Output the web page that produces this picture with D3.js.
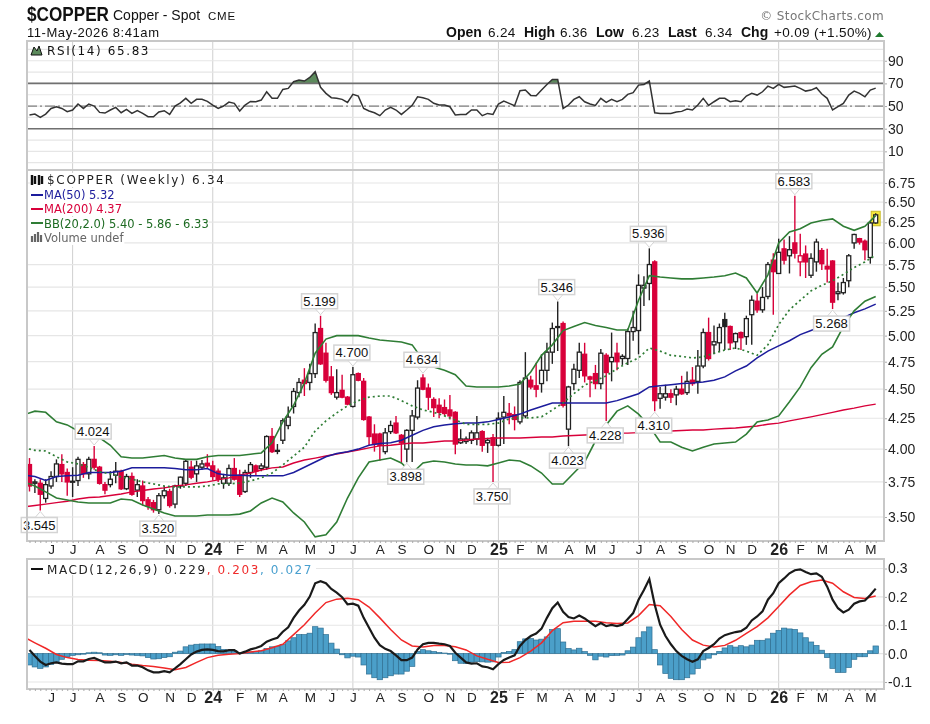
<!DOCTYPE html>
<html lang="en">
    <head>
        <meta charset="UTF-8">
        <title>$COPPER</title>
        <script type="text/javascript" src="https://cdnjs.cloudflare.com/ajax/libs/d3/7.8.5/d3.min.js"></script>
        <style>
            html, body { margin: 0; padding: 0; background: #fff; }
            svg { display: block; filter: blur(0.35px); }
            text { font-family: "Liberation Sans", Arial, sans-serif; fill: #111; }
            .legend { font-family: "DejaVu Sans", sans-serif; font-size: 12px; letter-spacing: 1.6px; }
            .tick-label text { font-size: 14px; fill: #222; }
            .domain { display: none; }
        </style>
    </head>
    <body>
        <div id="svg-container"></div>
        <script type="text/javascript">
            // weekly bars, first and last monday on the chart
            var weeks = d3.utcMonday.range(Date.UTC(2023, 4, 8), Date.UTC(2026, 4, 12));

            var opens = [
                3.88,3.74,3.74,3.63,3.72,3.79,3.88,3.82,3.75,3.76,
                3.88,3.81,3.92,3.86,3.73,3.73,3.80,3.83,3.70,3.79,
                3.69,3.72,3.62,3.60,3.55,3.65,3.68,3.59,3.72,3.74,
                3.86,3.81,3.86,3.89,3.87,3.83,3.74,3.74,3.85,3.80,
                3.68,3.82,3.87,3.85,3.86,4.10,3.985,4.07,4.19,4.35,
                4.47,4.58,4.56,4.64,5.07,4.83,4.61,4.43,4.49,4.43,
                4.35,4.64,4.57,4.26,4.12,4.12,3.98,4.14,4.21,4.11,
                4.00,4.15,4.26,4.60,4.51,4.41,4.36,4.34,4.32,4.30,
                4.05,4.06,4.07,4.08,4.14,4.05,4.09,4.03,4.26,4.29,
                4.28,4.22,4.27,4.58,4.53,4.55,4.67,4.84,5.08,5.12,
                4.16,4.55,4.67,4.82,4.61,4.64,4.55,4.81,4.75,4.83,
                4.78,4.78,5.04,5.05,5.49,5.54,5.78,4.42,4.43,4.46,
                4.45,4.50,4.47,4.58,4.57,4.71,5.03,4.91,4.93,5.16,
                5.09,4.94,5.03,4.99,5.21,5.35,5.26,5.40,5.80,5.65,
                5.93,5.85,6.00,5.78,5.87,5.63,5.78,5.91,5.73,5.79,
                5.43,5.44,5.57,6.00,6.05,6.02,5.83,6.24
            ];
            var highs = [
                3.93,3.77,3.77,3.77,3.83,3.92,3.96,3.85,3.86,3.94,
                3.90,3.94,4.024,3.87,3.75,3.83,3.90,3.84,3.81,3.82,
                3.77,3.76,3.64,3.62,3.67,3.72,3.70,3.73,3.79,3.92,
                3.91,3.91,3.915,3.96,3.91,3.85,3.81,3.88,3.93,3.84,
                3.84,3.90,3.88,3.89,4.11,4.17,4.04,4.25,4.35,4.51,
                4.60,4.69,4.73,5.12,5.199,4.93,4.71,4.68,4.63,4.44,
                4.70,4.65,4.60,4.27,4.20,4.13,4.17,4.23,4.27,4.12,
                4.16,4.32,4.58,4.634,4.55,4.43,4.42,4.41,4.45,4.31,
                4.16,4.10,4.15,4.27,4.15,4.09,4.12,4.30,4.44,4.38,
                4.35,4.58,4.84,4.62,4.74,4.82,4.93,5.13,5.346,5.14,
                4.53,4.73,4.93,4.93,4.62,4.72,4.87,4.83,5.03,4.93,
                4.82,5.07,5.25,5.64,5.62,5.936,5.80,4.52,4.54,4.50,
                4.53,4.62,4.66,4.70,4.86,5.07,5.18,5.10,5.12,5.23,
                5.10,5.03,5.04,5.20,5.41,5.43,5.50,5.78,5.88,6.05,
                6.04,6.08,6.583,6.11,5.97,5.88,6.05,5.94,5.93,5.80,
                5.55,5.60,5.87,6.11,6.06,6.04,6.26,6.36
            ];
            var lows = [
                3.68,3.67,3.545,3.60,3.70,3.75,3.75,3.65,3.64,3.72,
                3.78,3.77,3.84,3.73,3.66,3.71,3.74,3.69,3.69,3.65,
                3.64,3.58,3.55,3.53,3.52,3.63,3.565,3.56,3.70,3.72,
                3.77,3.75,3.84,3.85,3.76,3.75,3.70,3.72,3.76,3.64,
                3.67,3.78,3.80,3.83,3.84,3.97,3.96,4.04,4.16,4.29,
                4.43,4.44,4.49,4.60,4.72,4.56,4.45,4.41,4.42,4.36,
                4.34,4.57,4.23,4.03,3.98,3.91,3.96,4.12,4.12,3.89,
                3.898,3.90,4.24,4.49,4.32,4.26,4.25,4.27,4.24,3.96,
                4.04,4.04,4.04,4.03,3.98,3.97,3.75,4.02,4.04,4.20,
                4.15,4.20,4.25,4.50,4.43,4.47,4.57,4.73,4.85,4.34,
                4.023,4.49,4.60,4.56,4.43,4.50,4.50,4.228,4.57,4.67,
                4.72,4.72,4.95,4.82,5.30,5.36,4.31,4.33,4.40,4.38,
                4.36,4.45,4.45,4.53,4.46,4.69,4.76,4.82,4.84,4.86,
                4.86,4.87,4.86,4.91,4.91,5.23,5.23,5.37,5.21,5.65,
                5.75,5.65,5.82,5.62,5.60,5.60,5.67,5.69,5.55,5.268,
                5.36,5.42,5.50,5.93,5.98,5.80,5.76,6.23
            ];
            var closes = [
                3.72,3.75,3.66,3.73,3.79,3.885,3.81,3.75,3.755,3.92,
                3.81,3.92,3.86,3.74,3.69,3.77,3.83,3.70,3.79,3.66,
                3.73,3.615,3.575,3.55,3.65,3.685,3.58,3.72,3.785,3.905,
                3.785,3.87,3.885,3.87,3.79,3.77,3.78,3.85,3.77,3.66,
                3.82,3.88,3.83,3.87,4.10,3.98,3.99,4.23,4.26,4.48,
                4.56,4.55,4.64,5.03,4.73,4.58,4.47,4.47,4.43,4.37,
                4.63,4.58,4.24,4.10,4.04,4.03,4.13,4.19,4.13,4.05,
                4.15,4.27,4.51,4.50,4.43,4.34,4.30,4.29,4.27,4.04,
                4.08,4.08,4.13,4.13,4.03,4.07,4.03,4.25,4.30,4.27,
                4.24,4.56,4.60,4.52,4.50,4.67,4.84,5.07,5.09,4.36,
                4.52,4.68,4.84,4.62,4.59,4.55,4.83,4.65,4.79,4.75,
                4.80,5.04,5.08,5.52,5.52,5.75,4.40,4.46,4.46,4.43,
                4.50,4.46,4.57,4.55,4.71,5.03,4.78,4.94,5.08,5.09,
                4.93,5.02,4.98,5.17,5.36,5.26,5.39,5.75,5.67,5.89,
                5.80,5.92,5.88,5.85,5.78,5.82,6.01,5.76,5.70,5.34,
                5.45,5.55,5.85,6.10,6.01,5.92,6.24,6.34
            ];

            // overlays are read every second week, counted back from the last bar
            var ma50 = [
                3.80,3.79,3.76,3.79,3.795,3.80,3.82,3.82,3.82,3.83,
                3.855,3.855,3.855,3.855,3.85,3.84,3.84,3.85,3.81,3.80,
                3.80,3.795,3.795,3.795,3.795,3.82,3.86,3.90,3.94,3.965,
                3.98,4.00,4.03,4.045,4.05,4.07,4.11,4.15,4.18,4.195,
                4.205,4.21,4.21,4.22,4.24,4.26,4.285,4.32,4.35,4.38,
                4.38,4.38,4.38,4.38,4.38,4.40,4.43,4.46,4.52,4.53,
                4.54,4.55,4.555,4.564,4.58,4.61,4.665,4.71,4.785,4.85,
                4.90,4.95,5.01,5.05,5.09,5.13,5.18,5.23,5.27,5.32
            ];
            var ma200 = [
                3.57,3.58,3.59,3.60,3.61,3.626,3.637,3.64,3.651,3.662,
                3.677,3.687,3.698,3.706,3.72,3.728,3.74,3.75,3.765,3.78,
                3.80,3.816,3.839,3.855,3.862,3.892,3.915,3.93,3.946,3.962,
                3.977,3.993,4.01,4.025,4.03,4.04,4.048,4.048,4.056,4.064,
                4.064,4.072,4.08,4.084,4.088,4.088,4.088,4.092,4.096,4.096,
                4.104,4.108,4.112,4.116,4.12,4.128,4.128,4.132,4.136,4.14,
                4.145,4.149,4.153,4.153,4.16,4.165,4.17,4.178,4.186,4.20,
                4.21,4.228,4.245,4.262,4.28,4.30,4.32,4.336,4.355,4.37
            ];
            var bbUpper = [
                4.28,4.31,4.30,4.22,4.195,4.145,4.11,4.09,4.03,3.94,
                3.93,3.93,3.94,3.95,3.93,3.92,3.92,3.94,3.95,3.95,
                3.95,3.96,3.97,4.05,4.22,4.36,4.555,4.83,4.966,5.00,
                5.00,5.00,4.976,4.957,4.947,4.937,4.91,4.766,4.70,4.67,
                4.63,4.528,4.52,4.52,4.52,4.528,4.546,4.655,4.81,4.91,
                5.05,5.09,5.13,5.10,5.08,5.056,5.056,5.36,5.625,5.61,
                5.60,5.59,5.59,5.60,5.61,5.625,5.655,5.60,5.437,5.635,
                6.00,6.13,6.17,6.24,6.27,6.29,6.20,6.15,6.20,6.33
            ];
            var bbMiddle = [
                4.01,3.99,3.985,3.94,3.90,3.885,3.86,3.825,3.81,3.787,
                3.77,3.75,3.735,3.72,3.713,3.713,3.713,3.72,3.735,3.735,
                3.742,3.757,3.78,3.816,3.877,3.946,4.015,4.145,4.228,4.295,
                4.355,4.40,4.43,4.44,4.44,4.40,4.355,4.32,4.30,4.27,
                4.236,4.20,4.20,4.20,4.21,4.245,4.253,4.253,4.262,4.32,
                4.38,4.46,4.537,4.575,4.62,4.685,4.74,4.785,4.88,4.85,
                4.81,4.80,4.785,4.795,4.83,4.86,4.88,4.85,4.81,4.91,
                5.11,5.26,5.36,5.46,5.52,5.57,5.64,5.715,5.78,5.86
            ];
            var bbLower = [
                3.75,3.72,3.677,3.633,3.619,3.605,3.598,3.598,3.598,3.626,
                3.619,3.584,3.556,3.528,3.507,3.507,3.507,3.514,3.514,3.514,
                3.52,3.542,3.598,3.633,3.605,3.528,3.466,3.366,3.38,3.466,
                3.633,3.78,3.90,3.915,3.93,3.892,3.816,3.892,3.907,3.90,
                3.885,3.877,3.877,3.87,3.892,3.915,3.907,3.87,3.816,3.735,
                3.735,3.816,3.90,4.064,4.195,4.31,4.355,4.285,4.186,4.056,
                4.056,4.015,3.985,4.015,4.04,4.048,4.056,4.12,4.22,4.236,
                4.27,4.39,4.52,4.695,4.82,4.89,5.09,5.25,5.35,5.40
            ];

            var rsiValues = [
                42.1,42.9,40,42.9,47.9,49.4,47.9,45,46.5,51.8,
                47.9,51.8,50,44.4,43.8,46.5,48.8,44.1,47.1,43.5,
                45.9,43.5,40.6,40.6,44.7,45.9,42.6,50,52.9,56.8,
                52.4,55.9,55.9,54.1,50.9,47.9,50,53.5,52.4,45.6,
                50.9,54.1,53.8,55.3,62.6,56.8,56.8,64.7,65.6,71.5,
                72.9,72.1,75.3,80.3,66.5,61.2,57.4,56.8,55.9,53.2,
                60.3,58.8,47.9,45.6,44.1,41.5,46.5,48.8,46.5,42.6,
                46.5,50.6,58.2,57.4,55.9,52.4,50.9,50.9,49.4,42.1,
                42.6,42.6,46.5,46.5,41.5,43.5,42.6,51.8,54.4,52.4,
                50.3,63.5,64.1,59.4,59.1,64.1,69.1,73.5,73.5,47.9,
                50.9,55.9,58.2,53.8,51.8,50.6,56.8,53.2,55.9,53.8,
                55.9,60.3,61.8,68.5,69.1,72.1,44.1,43.5,43.5,43.5,
                44.7,45.3,47.4,46.5,50.9,56.8,50.6,53.8,56.8,56.8,
                53.8,54.7,53.8,58.8,61.2,59.7,62.6,67.6,65.6,69.1,
                66.5,67.1,67.6,65.6,63.2,64.1,66.2,60.6,56.8,46.5,
                49.4,52.4,59.7,63.2,61.2,58.2,64.1,65.83
            ];

            var macdValues = [
                0.013,-0.008,-0.028,-0.040,-0.034,-0.031,-0.035,-0.037,-0.037,-0.027,
                -0.027,-0.019,-0.015,-0.023,-0.031,-0.031,-0.028,-0.034,-0.031,-0.042,
                -0.042,-0.048,-0.059,-0.066,-0.066,-0.062,-0.066,-0.052,-0.037,-0.020,
                -0.003,0.007,0.013,0.015,0.013,0.009,0.008,0.012,0.012,0,
                0.007,0.015,0.020,0.027,0.042,0.050,0.056,0.077,0.093,0.126,
                0.152,0.172,0.201,0.248,0.255,0.248,0.228,0.215,0.199,0.174,
                0.176,0.169,0.126,0.091,0.056,0.030,0.017,0.009,-0.006,-0.023,
                -0.023,-0.014,0.015,0.033,0.038,0.038,0.035,0.033,0.027,0.003,
                -0.014,-0.031,-0.035,-0.034,-0.045,-0.048,-0.055,-0.037,-0.022,-0.014,
                -0.006,0.027,0.048,0.062,0.071,0.088,0.126,0.160,0.180,0.147,
                0.129,0.124,0.134,0.124,0.110,0.097,0.108,0.097,0.101,0.097,
                0.102,0.122,0.143,0.190,0.224,0.263,0.172,0.102,0.062,0.033,
                0.009,-0.008,-0.020,-0.029,-0.020,0.009,0.020,0.033,0.053,0.065,
                0.071,0.076,0.079,0.091,0.117,0.131,0.149,0.190,0.213,0.248,
                0.265,0.283,0.294,0.297,0.288,0.280,0.283,0.271,0.236,0.190,
                0.160,0.145,0.155,0.176,0.184,0.187,0.207,0.229
            ];
            // signal line, read every second week like the overlays
            var macdSignal = [
                0.058,0.038,0.019,-0.003,-0.014,-0.021,-0.023,-0.024,-0.027,-0.031,
                -0.037,-0.042,-0.045,-0.051,-0.057,-0.049,-0.031,-0.014,-0.006,-0.002,
                0,0.006,0.010,0.021,0.033,0.067,0.102,0.143,0.180,0.192,
                0.195,0.190,0.164,0.126,0.085,0.048,0.027,0.023,0.029,0.029,
                0.024,0.013,-0.008,-0.020,-0.031,-0.030,-0.014,0.009,0.038,0.081,
                0.109,0.114,0.114,0.114,0.109,0.106,0.108,0.134,0.173,0.169,
                0.131,0.085,0.048,0.030,0.023,0.029,0.047,0.071,0.095,0.126,
                0.166,0.207,0.240,0.253,0.259,0.248,0.218,0.198,0.194,0.203
            ];
            var macdHist = [
                -0.040,-0.047,-0.052,-0.047,-0.038,-0.030,-0.020,-0.012,-0.006,-0.004,
                -0.002,0.003,0.005,0.003,-0.005,-0.006,-0.004,-0.006,-0.003,-0.005,
                -0.006,-0.008,-0.014,-0.019,-0.018,-0.014,-0.011,0.005,0.009,0.024,
                0.030,0.033,0.034,0.034,0.034,0.025,0.015,0.012,0.010,0.003,
                0.003,0.006,0.007,0.010,0.018,0.024,0.026,0.032,0.045,0.056,
                0.067,0.067,0.072,0.095,0.090,0.067,0.037,0.016,-0.004,-0.015,
                -0.009,-0.012,-0.040,-0.072,-0.085,-0.092,-0.085,-0.078,-0.072,-0.072,
                -0.062,-0.045,0.008,0.014,0.010,0.007,0.004,0.002,-0.002,-0.025,
                -0.034,-0.035,-0.030,-0.028,-0.029,-0.030,-0.029,-0.012,0.004,0.008,
                0.014,0.042,0.052,0.053,0.048,0.051,0.059,0.085,0.088,0.041,
                0.018,0.013,0.019,0.007,-0.006,-0.022,-0.009,-0.012,-0.007,-0.006,
                -0.005,0.010,0.023,0.056,0.077,0.094,0.014,-0.040,-0.070,-0.087,
                -0.092,-0.092,-0.085,-0.072,-0.052,-0.022,-0.016,-0.004,0.008,0.020,
                0.028,0.023,0.028,0.024,0.030,0.047,0.047,0.052,0.072,0.082,
                0.090,0.087,0.085,0.073,0.056,0.041,0.029,0.012,-0.014,-0.052,
                -0.066,-0.066,-0.049,-0.020,-0.011,-0.011,0.010,0.027
            ];

            var priceTicks = [3.5, 3.75, 4, 4.25, 4.5, 4.75, 5, 5.25, 5.5, 5.75, 6, 6.25, 6.5, 6.75];
            var rsiTicks = [10, 30, 50, 70, 90];
            var rsiGrid = [0, 10, 20, 30, 40, 50, 60, 70, 80, 90, 100];
            var macdTicks = [-0.1, 0, 0.1, 0.2, 0.3];

            // first monday of each month, and its label on the axis
            var monthDates = [
                '2023-06-05','2023-07-03','2023-08-07','2023-09-04','2023-10-02','2023-11-06','2023-12-04',
                '2024-01-01','2024-02-05','2024-03-04','2024-04-01','2024-05-06','2024-06-03','2024-07-01',
                '2024-08-05','2024-09-02','2024-10-07','2024-11-04','2024-12-02','2025-01-06','2025-02-03',
                '2025-03-03','2025-04-07','2025-05-05','2025-06-02','2025-07-07','2025-08-04','2025-09-01',
                '2025-10-06','2025-11-03','2025-12-01','2026-01-05','2026-02-02','2026-03-02','2026-04-06',
                '2026-05-04'
            ];
            var monthLabels = [
                'J','J','A','S','O','N','D','24','F','M','A','M','J','J','A','S','O','N','D','25','F',
                'M','A','M','J','J','A','S','O','N','D','26','F','M','A','M'
            ];
            var gridDates = ['2023-07-03', '2024-01-01', '2024-07-01', '2025-01-06', '2025-07-07', '2026-01-05'];

            // swing highs and lows marked on the chart: bar number, value, which side
            var callouts = [
                [2, 3.545, 'low'], [12, 4.024, 'high'], [24, 3.520, 'low'], [54, 5.199, 'high'],
                [60, 4.700, 'high'], [73, 4.634, 'high'], [70, 3.898, 'low'], [86, 3.750, 'low'],
                [98, 5.346, 'high'], [100, 4.023, 'low'], [107, 4.228, 'low'], [115, 5.936, 'high'],
                [116, 4.310, 'low'], [142, 6.583, 'high'], [149, 5.268, 'low']
            ];

            var WIDTH = 930;
            var HEIGHT = 724;
            var LEFT = 27;
            var RIGHT = 884;

            var RED = '#d8003a';
            var NAVY = '#1c1c9c';
            var GREEN = '#2f7d35';
            var GRID = '#e6e6e6';
            var VGRID = '#cfcfcf';
            var FRAME = '#c8c8c8';

            var svg = d3.select('#svg-container').append('svg')
                .attr('width', WIDTH)
                .attr('height', HEIGHT);

            var parseDay = d3.utcParse('%Y-%m-%d');

            var x = d3.scaleUtc()
                .domain([weeks[0], weeks[weeks.length - 1]])
                .range([29.5, 875.7]);

            var rsiY = d3.scaleLinear().domain([30, 70]).range([128.7, 83.4]);
            var priceY = d3.scaleLog().domain([3.5, 6.75]).range([517, 183]);
            var macdY = d3.scaleLinear().domain([-0.1, 0.3]).range([682, 568.5]);

            // date of the j-th value in an every-second-week series
            var sampleDate = function (values, j) {
                return d3.utcWeek.offset(weeks[weeks.length - 1], -2 * (values.length - 1 - j));
            };

            var addPanel = function (id, top, bottom) {
                svg.append('clipPath').attr('id', id)
                    .append('rect')
                    .attr('x', LEFT)
                    .attr('y', top)
                    .attr('width', RIGHT - LEFT)
                    .attr('height', bottom - top);

                var panel = svg.append('g');

                // vertical grid
                panel.selectAll('line.v')
                    .data(gridDates)
                    .enter().append('line')
                    .attr('x1', function (d) { return x(parseDay(d)); })
                    .attr('x2', function (d) { return x(parseDay(d)); })
                    .attr('y1', top)
                    .attr('y2', bottom)
                    .attr('stroke', VGRID);

                return panel;
            };

            var addGrid = function (panel, scale, ticks) {
                panel.selectAll('line.h')
                    .data(ticks)
                    .enter().append('line')
                    .attr('class', 'h')
                    .attr('x1', LEFT)
                    .attr('x2', RIGHT)
                    .attr('y1', function (d) { return scale(d); })
                    .attr('y2', function (d) { return scale(d); })
                    .attr('stroke', GRID)
                    .attr('stroke-width', 1.2);
            };

            var addFrame = function (top, bottom) {
                svg.append('rect')
                    .attr('x', LEFT)
                    .attr('y', top)
                    .attr('width', RIGHT - LEFT)
                    .attr('height', bottom - top)
                    .attr('fill', 'none')
                    .attr('stroke', FRAME)
                    .attr('stroke-width', 2);
            };

            var addAxisRight = function (scale, ticks, format) {
                var axis = svg.append('g')
                    .attr('class', 'tick-label')
                    .attr('transform', 'translate(' + (RIGHT + 1) + ',0)')
                    .call(d3.axisRight(scale).tickValues(ticks).tickSize(2).tickPadding(1).tickFormat(format));
                axis.selectAll('line').attr('stroke', '#aaa');
                return axis;
            };

            var addAxisBottom = function (y) {
                // one little tick per week
                var minor = svg.append('g')
                    .attr('transform', 'translate(0,' + y + ')')
                    .call(d3.axisBottom(x).tickValues(weeks).tickSize(2).tickFormat(''));
                minor.selectAll('line').attr('stroke', '#aaa');

                var axis = svg.append('g')
                    .attr('transform', 'translate(0,' + y + ')')
                    .call(d3.axisBottom(x)
                        .tickValues(monthDates.map(parseDay))
                        .tickSize(0)
                        .tickPadding(3)
                        .tickFormat(function (d, i) { return monthLabels[i]; }));
                axis.selectAll('text')
                    .style('font-size', function (d, i) { return monthLabels[i].length > 1 ? '16px' : '13.5px'; })
                    .style('font-weight', function (d, i) { return monthLabels[i].length > 1 ? 'bold' : 'normal'; })
                    .style('fill', '#222');
            };

            var sampledLine = function (values, scale) {
                return d3.line()
                    .x(function (d, j) { return x(sampleDate(values, j)); })
                    .y(function (d) { return scale(d); })(values);
            };

            var weeklyLine = function (values, scale) {
                return d3.line()
                    .x(function (d, i) { return x(weeks[i]); })
                    .y(function (d) { return scale(d); })(values);
            };

            // ---------- header ----------
            svg.append('text').attr('x', 27).attr('y', 21)
                .style('font-size', '19.5px').style('font-weight', 'bold')
                .attr('textLength', 82).attr('lengthAdjust', 'spacingAndGlyphs')
                .text('$COPPER');
            svg.append('text').attr('x', 113).attr('y', 20).style('font-size', '14px').text('Copper - Spot');
            svg.append('text').attr('x', 208).attr('y', 20).style('font-size', '11.5px').style('letter-spacing', '0.8px').text('CME');
            svg.append('text').attr('x', 27).attr('y', 37).style('font-size', '13px').style('letter-spacing', '0.55px').text('11-May-2026 8:41am');
            svg.append('text').attr('x', 884).attr('y', 20).attr('text-anchor', 'end')
                .style('font-family', '"DejaVu Sans", sans-serif')
                .style('font-size', '12px').style('fill', '#777').style('letter-spacing', '0.35px')
                .text('\u00a9 StockCharts.com');

            var quote = [
                [446, 'Open', true], [488, '6.24', false], [524, 'High', true], [560, '6.36', false],
                [596, 'Low', true], [632, '6.23', false], [668, 'Last', true], [705, '6.34', false],
                [741, 'Chg', true], [774, '+0.09 (+1.50%)', false]
            ];
            svg.selectAll('text.quote')
                .data(quote)
                .enter().append('text')
                .attr('class', 'quote')
                .attr('x', function (d) { return d[0]; })
                .attr('y', 37)
                .style('font-size', function (d) { return d[2] ? '14px' : '13.5px'; })
                .style('font-weight', function (d) { return d[2] ? 'bold' : 'normal'; })
                .style('letter-spacing', function (d) { return d[2] ? '0' : '0.35px'; })
                .text(function (d) { return d[1]; });
            svg.append('path').attr('d', 'M875,37 L884,37 L879.5,32 Z').attr('fill', '#1f7a2e');

            // ---------- RSI panel ----------
            var rsiPanel = addPanel('clip-rsi', 41, 170);
            addGrid(rsiPanel, rsiY, rsiGrid);

            svg.append('clipPath').attr('id', 'clip-over')
                .append('rect')
                .attr('x', LEFT)
                .attr('width', RIGHT - LEFT)
                .attr('y', 41)
                .attr('height', rsiY(70) - 41);

            rsiPanel.append('path')
                .attr('clip-path', 'url(#clip-over)')
                .attr('d', d3.area()
                    .x(function (d, i) { return x(weeks[i]); })
                    .y0(rsiY(70))
                    .y1(function (d) { return rsiY(d); })(rsiValues))
                .attr('fill', '#5c8a5c');

            [70, 30].forEach(function (level) {
                rsiPanel.append('line')
                    .attr('x1', LEFT).attr('x2', RIGHT)
                    .attr('y1', rsiY(level)).attr('y2', rsiY(level))
                    .attr('stroke', '#707070').attr('stroke-width', 1.6);
            });
            rsiPanel.append('line')
                .attr('x1', LEFT).attr('x2', RIGHT)
                .attr('y1', rsiY(50)).attr('y2', rsiY(50))
                .attr('stroke', '#808080').attr('stroke-width', 1.2)
                .attr('stroke-dasharray', '10,3,2,3');

            rsiPanel.append('path')
                .attr('clip-path', 'url(#clip-rsi)')
                .attr('d', weeklyLine(rsiValues, rsiY))
                .attr('fill', 'none')
                .attr('stroke', '#333')
                .attr('stroke-width', 1.5);

            addFrame(41, 170);
            addAxisRight(rsiY, rsiTicks, d3.format('d'));

            // rsi legend
            svg.append('path').attr('d', 'M31,55 L34,47 L37,51 L39,46 L42,55 Z').attr('fill', '#5c8a5c').attr('stroke', '#111');
            svg.append('text').attr('class', 'legend').attr('x', 47).attr('y', 55).text('RSI(14) 65.83');

            // ---------- price panel ----------
            var pricePanel = addPanel('clip-price', 170, 541);
            addGrid(pricePanel, priceY, priceTicks);

            var lastBar = weeks.length - 1;
            pricePanel.append('rect')
                .attr('x', x(weeks[lastBar]) - 4.5)
                .attr('y', priceY(highs[lastBar]) - 2)
                .attr('width', 9)
                .attr('height', priceY(lows[lastBar]) - priceY(highs[lastBar]) + 4)
                .attr('fill', '#f5e83a')
                .attr('stroke', '#c9bb2a');

            // red when below the week before, black otherwise; hollow when it closed up
            var candleColor = function (d, i) {
                var before = i > 0 ? closes[i - 1] : opens[i];
                return closes[i] < before ? RED : '#222';
            };

            var bars = pricePanel.selectAll('g.bar')
                .data(weeks)
                .enter().append('g')
                .attr('class', 'bar')
                .attr('clip-path', 'url(#clip-price)');

            bars.append('line')
                .attr('x1', function (d) { return x(d); })
                .attr('x2', function (d) { return x(d); })
                .attr('y1', function (d, i) { return priceY(highs[i]); })
                .attr('y2', function (d, i) { return priceY(lows[i]); })
                .attr('stroke', candleColor)
                .attr('stroke-width', 1.4);

            bars.append('rect')
                .attr('x', function (d) { return x(d) - 2; })
                .attr('width', 4)
                .attr('y', function (d, i) { return priceY(Math.max(opens[i], closes[i])); })
                .attr('height', function (d, i) {
                    return Math.max(1, Math.abs(priceY(opens[i]) - priceY(closes[i])));
                })
                .attr('fill', function (d, i) {
                    if (closes[i] > opens[i]) {
                        return '#fff';
                    }
                    return candleColor(d, i);
                })
                .attr('stroke', candleColor)
                .attr('stroke-width', 1.3);

            var overlay = function (values, color, width, dash) {
                pricePanel.append('path')
                    .attr('clip-path', 'url(#clip-price)')
                    .attr('d', sampledLine(values, priceY))
                    .attr('fill', 'none')
                    .attr('stroke', color)
                    .attr('stroke-width', width)
                    .attr('stroke-dasharray', dash || null);
            };

            overlay(ma200, RED, 1.4);
            overlay(ma50, NAVY, 1.5);
            overlay(bbMiddle, GREEN, 1.7, '2,3');
            overlay(bbUpper, GREEN, 1.6);
            overlay(bbLower, GREEN, 1.6);

            // callouts with their little arrow
            var boxes = svg.selectAll('g.callout')
                .data(callouts)
                .enter().append('g')
                .attr('class', 'callout')
                .attr('transform', function (d) {
                    return 'translate(' + x(weeks[d[0]]) + ',' + priceY(d[1]) + ')';
                });

            boxes.append('path')
                .attr('d', function (d) {
                    var dir = d[2] === 'high' ? -1 : 1;
                    return 'M0,' + dir + ' L-6,' + (dir * 8) + ' L6,' + (dir * 8) + ' Z';
                })
                .attr('fill', '#fff')
                .attr('stroke', '#d4d4d4');

            boxes.append('rect')
                .attr('x', -19)
                .attr('width', 36)
                .attr('height', 15)
                .attr('y', function (d) { return d[2] === 'high' ? -22 : 7; })
                .attr('fill', '#fff')
                .attr('stroke', '#d4d4d4')
                .attr('stroke-width', 1.5);

            boxes.append('text')
                .attr('x', -1)
                .attr('y', function (d) { return d[2] === 'high' ? -10 : 19; })
                .attr('text-anchor', 'middle')
                .style('font-size', '13px')
                .text(function (d) { return d3.format('.3f')(d[1]); });

            addFrame(170, 541);
            addAxisRight(priceY, priceTicks, d3.format('.2f'));
            addAxisBottom(541);

            // price legend, white behind the text
            var priceLegend = [
                ['$COPPER (Weekly) 6.34', '#222', 47, 184],
                ['MA(50) 5.32', NAVY, 44, 199],
                ['MA(200) 4.37', RED, 44, 213],
                ['BB(20,2.0) 5.40 - 5.86 - 6.33', '#1d6b22', 44, 228],
                ['Volume undef', '#666', 44, 242]
            ];
            var legendGroup = svg.append('g');
            legendGroup.selectAll('text')
                .data(priceLegend)
                .enter().append('text')
                .attr('class', 'legend')
                .attr('x', function (d) { return d[2]; })
                .attr('y', function (d) { return d[3]; })
                .style('fill', function (d) { return d[1]; })
                .style('font-size', function (d, i) { return i === 0 ? '12px' : '11.5px'; })
                .style('letter-spacing', function (d, i) { return i === 0 ? '1.7px' : '0'; })
                .text(function (d) { return d[0]; })
                .each(function () {
                    var box = this.getBBox();
                    legendGroup.insert('rect', 'text')
                        .attr('x', box.x - 16)
                        .attr('y', box.y)
                        .attr('width', box.width + 16)
                        .attr('height', box.height)
                        .attr('fill', '#fff');
                });

            [[NAVY, 195], [RED, 209], [GREEN, 223]].forEach(function (d) {
                svg.append('line')
                    .attr('x1', 31).attr('x2', 43)
                    .attr('y1', d[1]).attr('y2', d[1])
                    .attr('stroke', d[0]).attr('stroke-width', 2);
            });
            // candle and volume glyphs
            svg.append('path').attr('d', 'M32,175 v10 M35,176 v8 M39,175 v10 M42,176 v8')
                .attr('stroke', '#111').attr('stroke-width', 2.4).attr('fill', 'none');
            svg.append('path').attr('d', 'M32,242 v-6 M35,242 v-8 M38,242 v-10 M41,242 v-7')
                .attr('stroke', '#666').attr('stroke-width', 2.2).attr('fill', 'none');

            // ---------- MACD panel ----------
            var macdPanel = addPanel('clip-macd', 559, 689);
            addGrid(macdPanel, macdY, macdTicks);

            macdPanel.selectAll('rect.hist')
                .data(macdHist)
                .enter().append('rect')
                .attr('class', 'hist')
                .attr('x', function (d, i) { return x(weeks[i]) - 2.7; })
                .attr('width', 5.39)
                .attr('y', function (d) { return Math.min(macdY(d), macdY(0)); })
                .attr('height', function (d) { return Math.abs(macdY(d) - macdY(0)); })
                .attr('fill', '#4b9fc9')
                .attr('stroke', '#2f6f92')
                .attr('stroke-width', 0.7)
                .attr('clip-path', 'url(#clip-macd)');

            macdPanel.append('path')
                .attr('clip-path', 'url(#clip-macd)')
                .attr('d', sampledLine(macdSignal, macdY))
                .attr('fill', 'none')
                .attr('stroke', '#f02828')
                .attr('stroke-width', 1.5);

            macdPanel.append('path')
                .attr('clip-path', 'url(#clip-macd)')
                .attr('d', weeklyLine(macdValues, macdY))
                .attr('fill', 'none')
                .attr('stroke', '#1a1a1a')
                .attr('stroke-width', 2.2);

            addFrame(559, 689);
            addAxisRight(macdY, macdTicks, function (d) { return d3.format('.1f')(d).replace('\u2212', '-'); });
            addAxisBottom(689);

            // macd legend
            svg.append('rect').attr('x', 28).attr('y', 560).attr('width', 288).attr('height', 15).attr('fill', '#fff');
            svg.append('line').attr('x1', 31).attr('x2', 43).attr('y1', 569).attr('y2', 569)
                .attr('stroke', '#111').attr('stroke-width', 2);
            var macdLegend = svg.append('text').attr('class', 'legend').attr('x', 47).attr('y', 574);
            macdLegend.append('tspan').style('fill', '#222').text('MACD(12,26,9) 0.229');
            macdLegend.append('tspan').style('fill', '#ef2b2b').text(', 0.203');
            macdLegend.append('tspan').style('fill', '#4aa0cf').text(', 0.027');
        </script>
    </body>
</html>
